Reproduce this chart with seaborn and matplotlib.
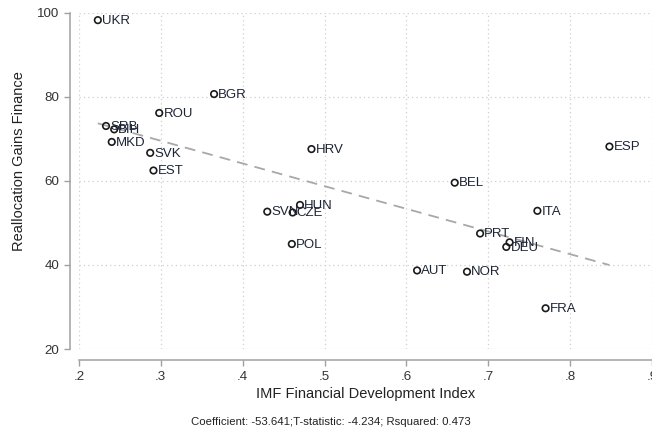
import matplotlib
matplotlib.use("Agg")
import matplotlib.pyplot as plt
import seaborn as sns
import numpy as np
import pandas as pd

countries = ["UKR", "BGR", "ROU", "SRB", "BIH", "MKD", "SVK", "EST", "HRV", "BEL",
             "ESP", "ITA", "PRT", "FIN", "DEU", "AUT", "NOR", "FRA", "SVN", "CZE",
             "HUN", "POL"]
fin_dev = [0.223, 0.365, 0.298, 0.233, 0.243, 0.240, 0.287, 0.291, 0.484, 0.659,
           0.848, 0.760, 0.690, 0.726, 0.722, 0.613, 0.674, 0.770, 0.430, 0.461,
           0.470, 0.460]
realloc_gains = [98.3, 80.7, 76.2, 73.1, 72.3, 69.3, 66.7, 62.5, 67.6, 59.6,
                 68.2, 52.9, 47.5, 45.4, 44.3, 38.7, 38.4, 29.7, 52.7, 52.5,
                 54.3, 45.0]
x_ticks = [0.2, 0.3, 0.4, 0.5, 0.6, 0.7, 0.8, 0.9]
x_ticklabels = [".2", ".3", ".4", ".5", ".6", ".7", ".8", ".9"]
y_ticks = [20, 40, 60, 80, 100]
note = "Coefficient: -53.641;T-statistic: -4.234; Rsquared: 0.473"

df = pd.DataFrame({"country": countries, "x": fin_dev, "y": realloc_gains})

sns.set_style("white")
plt.rcParams["font.family"] = ["Liberation Sans", "DejaVu Sans"]

fig = plt.figure(figsize=(6.52, 4.33), dpi=100)
ax = fig.add_axes([79 / 652, 1 - 349 / 433, 1 - 79 / 652, (349 - 13) / 433])

sns.regplot(data=df, x="x", y="y", scatter=False, ci=None, ax=ax,
            line_kws=dict(color="#a8a8a8", lw=1.3, ls=(0, (6, 4))))
sns.scatterplot(data=df, x="x", y="y", ax=ax, marker="o", s=22,
                facecolors="none", edgecolor="#1a1a1a", linewidth=1.2, zorder=3)

for c, xv, yv in zip(countries, fin_dev, realloc_gains):
    ax.annotate(c, (xv, yv), xytext=(3.0, -0.5), textcoords="offset points",
                va="center", ha="left", fontsize=9.5, color="#1c2435")

ax.set_xlim(0.2, 0.9)
ax.set_ylim(20, 100)
ax.set_xticks(x_ticks)
ax.set_xticklabels(x_ticklabels)
ax.set_yticks(y_ticks)
ax.grid(True, ls=(0, (1, 2.5)), color="#cfcfcf", lw=0.9)
ax.set_axisbelow(True)

for s in ["top", "right"]:
    ax.spines[s].set_visible(False)
ax.spines["left"].set_position(("outward", 6.5))
ax.spines["bottom"].set_position(("outward", 8))
for s in ["left", "bottom"]:
    ax.spines[s].set_color("#a0a0a0")
    ax.spines[s].set_linewidth(1.1)
ax.spines["left"].set_bounds(20, 100)
ax.spines["bottom"].set_bounds(0.2, 0.9)

ax.tick_params(axis="both", which="major", length=4.5, width=1, color="#a0a0a0",
               labelsize=9.6, labelcolor="#333333", pad=3, direction="out",
               bottom=True, left=True)

ax.set_xlabel("IMF Financial Development Index", fontsize=10.5, color="#222222", labelpad=3)
ax.set_ylabel("Reallocation Gains Finance", fontsize=10.5, color="#222222")
ax.yaxis.set_label_coords(-0.092, 0.56)

fig.text(331 / 652, 1 - 422 / 433, note, ha="center", va="center", fontsize=8.2, color="#222222")

fig.savefig("out.png", dpi=100)
